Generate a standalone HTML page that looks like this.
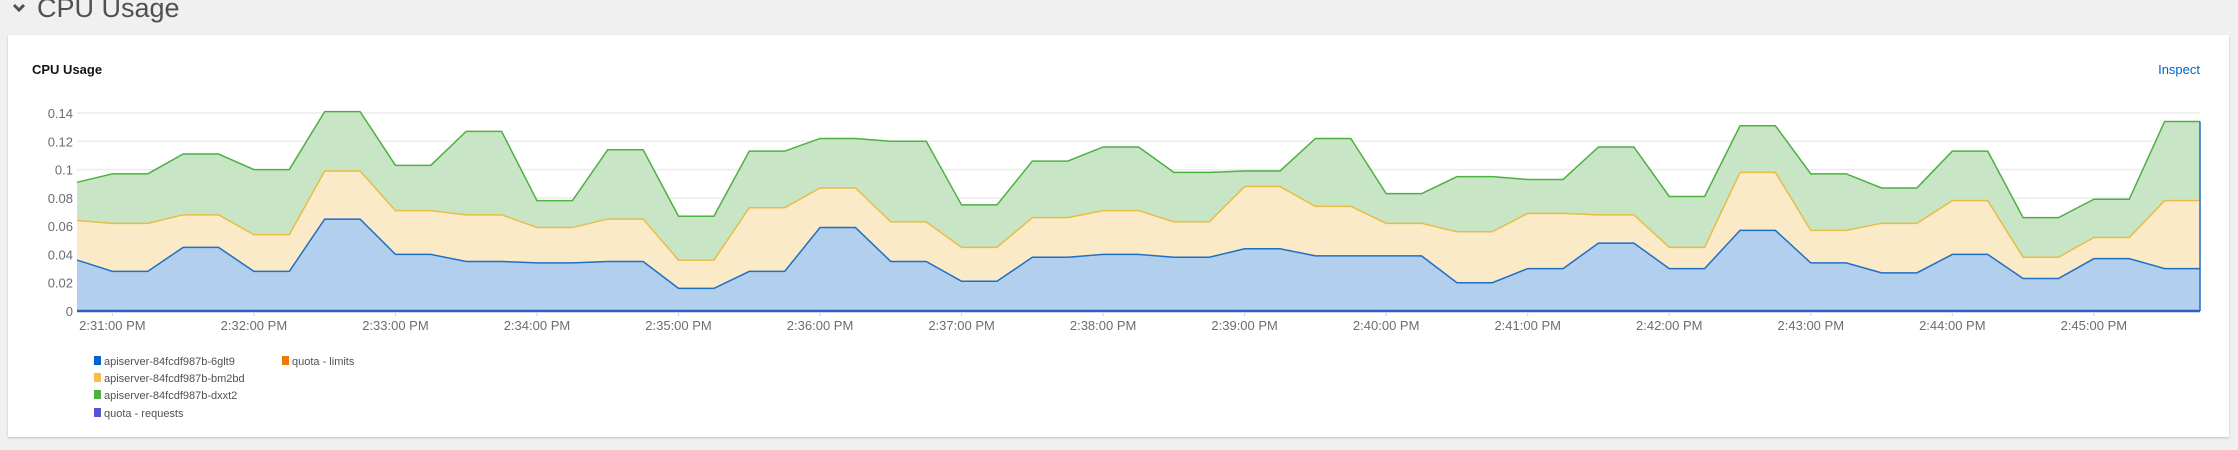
<!DOCTYPE html>
<html><head><meta charset="utf-8"><style>
body{margin:0;width:2238px;height:450px;background:#f0f0f0;font-family:"Liberation Sans",sans-serif;overflow:hidden;position:relative}
.hdr{position:absolute;left:37px;top:-7px;font-size:27px;color:#4f5255}
.chev{position:absolute;left:12px;top:2px}
.card{position:absolute;left:8px;top:35px;width:2221px;height:402px;background:#fff;box-shadow:0 1px 2px rgba(0,0,0,.2)}
.title{position:absolute;left:32px;top:62px;font-size:13px;font-weight:bold;color:#151515}
.insp{position:absolute;right:38px;top:62px;font-size:13px;color:#0066cc}
</style></head><body>
<svg class="chev" width="14" height="12"><path d="M2 3 L7 8 L12 3" stroke="#4f5255" stroke-width="3" fill="none"/></svg>
<div class="hdr">CPU Usage</div>
<div class="card"></div>
<div class="title">CPU Usage</div>
<div class="insp">Inspect</div>
<svg id="chart" width="2238" height="450" style="position:absolute;left:0;top:0"></svg>
<script>
const yTicks=[0,0.02,0.04,0.06,0.08,0.1,0.12,0.14];
const yTickLabels=["0","0.02","0.04","0.06","0.08","0.1","0.12","0.14"];
const xTickLabels=["2:31:00 PM","2:32:00 PM","2:33:00 PM","2:34:00 PM","2:35:00 PM","2:36:00 PM","2:37:00 PM","2:38:00 PM","2:39:00 PM","2:40:00 PM","2:41:00 PM","2:42:00 PM","2:43:00 PM","2:44:00 PM","2:45:00 PM"];
const xTickMinutes=[0,1,2,3,4,5,6,7,8,9,10,11,12,13,14];
const startSeconds=-15; const stepSeconds=15;
const blue=[.036,.028,.028,.045,.045,.028,.028,.065,.065,.040,.040,.035,.035,.034,.034,.035,.035,.016,.016,.028,.028,.059,.059,.035,.035,.021,.021,.038,.038,.040,.040,.038,.038,.044,.044,.039,.039,.039,.039,.020,.020,.030,.030,.048,.048,.030,.030,.057,.057,.034,.034,.027,.027,.040,.040,.023,.023,.037,.037,.030,.030];
const yellow=[.028,.034,.034,.023,.023,.026,.026,.034,.034,.031,.031,.033,.033,.025,.025,.030,.030,.020,.020,.045,.045,.028,.028,.028,.028,.024,.024,.028,.028,.031,.031,.025,.025,.044,.044,.035,.035,.023,.023,.036,.036,.039,.039,.020,.020,.015,.015,.041,.041,.023,.023,.035,.035,.038,.038,.015,.015,.015,.015,.048,.048];
const green=[.027,.035,.035,.043,.043,.046,.046,.042,.042,.032,.032,.059,.059,.019,.019,.049,.049,.031,.031,.040,.040,.035,.035,.057,.057,.030,.030,.040,.040,.045,.045,.035,.035,.011,.011,.048,.048,.021,.021,.039,.039,.024,.024,.048,.048,.036,.036,.033,.033,.040,.040,.025,.025,.035,.035,.028,.028,.027,.027,.056,.056];
const legendLabels=["apiserver-84fcdf987b-6glt9","apiserver-84fcdf987b-bm2bd","apiserver-84fcdf987b-dxxt2","quota - requests","quota - limits"];
const legendColors=["#0066cc","#f4c145","#4cb140","#5752d1","#ec7a08"];

const NS="http://www.w3.org/2000/svg",svg=document.getElementById('chart');
const L=77,R=2200,Y0=311,Ytop=113;
const x=s=>L+(s-startSeconds)/(900)*(R-L);
const y=v=>Y0-v/0.14*(Y0-Ytop);
function mk(t,a){const e=document.createElementNS(NS,t);for(const k in a)e.setAttribute(k,a[k]);svg.appendChild(e);return e;}
yTicks.forEach((v,i)=>{
 const g=mk('line',{x1:L,x2:R,y1:y(v),y2:y(v),stroke:'#ececec','stroke-width':1.5});
 
 
 const t=mk('text',{x:73,y:y(v)+5,'text-anchor':'end','font-size':13,fill:'#6a6e73','font-family':'Liberation Sans'});
 t.textContent=yTickLabels[i];
 
 
});
const xs=blue.map((_,i)=>x(startSeconds+i*stepSeconds));
const c1=blue.slice(),c2=blue.map((b,i)=>b+yellow[i]),c3=c2.map((v,i)=>v+green[i]);
function area(top,bot,fill,stroke,name){
 let d='M'+xs.map((px,i)=>px+','+y(top[i])).join('L');
 for(let i=xs.length-1;i>=0;i--)d+='L'+xs[i]+','+y(bot?bot[i]:0);
 const a=mk('path',{d:d+'Z',fill:fill});
 
 
 const l=mk('path',{d:'M'+xs.map((px,i)=>px+','+y(top[i])).join('L'),fill:'none',stroke:stroke,'stroke-width':1.5});
 
 
}
area(c3,c2,'#c8e5c5','#4cb140','dxxt2');
area(c2,c1,'#fbeac7','#e8bd45','bm2bd');
area(c1,null,'#b2cfee','#1f6fc5','6glt9');
const base=mk('line',{x1:L,x2:R,y1:Y0,y2:Y0,stroke:'#2f5fc0','stroke-width':2.5});


const ed=mk('line',{x1:R,x2:R,y1:y(c3[c3.length-1]),y2:Y0,stroke:'#1f6fc5','stroke-width':1.5});


xTickMinutes.forEach((m,i)=>{
 const px=x(m*60);
 const tk=mk('line',{x1:px,x2:px,y1:Y0+1,y2:Y0+5,stroke:'#d2d2d2'});
 
 
 const t=mk('text',{x:px,y:330,'text-anchor':'middle','font-size':13,fill:'#6a6e73','font-family':'Liberation Sans'});
 t.textContent=xTickLabels[i];
 
 
});
const legPos=[[94,361],[94,378],[94,395],[94,413],[282,361]];
legendLabels.forEach((lb,i)=>{
 const [lx,ly]=legPos[i];
 const r=mk('rect',{x:lx,y:ly-5,width:7,height:9,fill:legendColors[i]});
 
 
 const t=mk('text',{x:lx+10,y:ly+4,'font-size':11,fill:'#4f5255','font-family':'Liberation Sans'});
 t.textContent=lb;
 
 
});
</script>
</body></html>
